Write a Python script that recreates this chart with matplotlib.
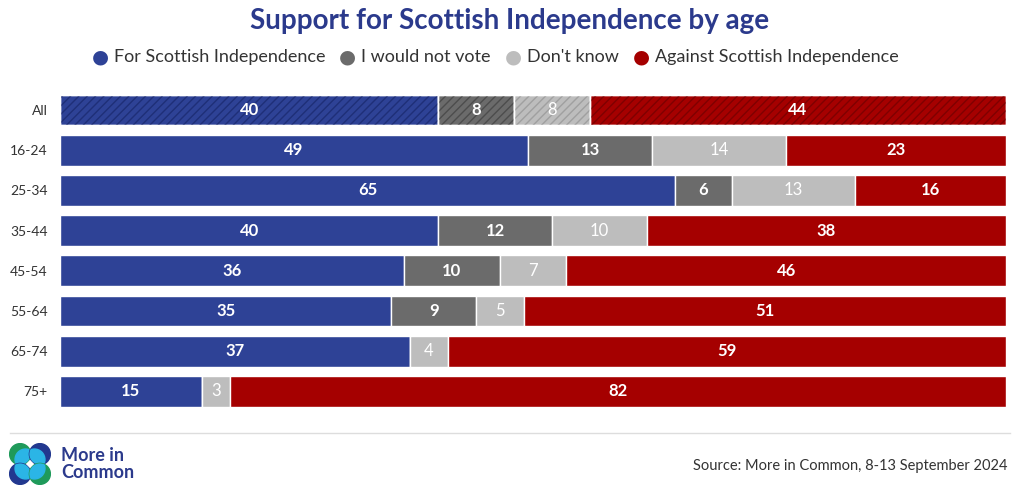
import matplotlib
matplotlib.use('Agg')
from matplotlib import pyplot as plt
from matplotlib.patches import Circle
import numpy as np

plt.rcParams['font.family'] = ['Lato', 'DejaVu Sans']
plt.rcParams['hatch.linewidth'] = 1.0

groups = ['All', '16-24', '25-34', '35-44', '45-54', '55-64', '65-74', '75+']
series = ['For Scottish Independence', 'I would not vote', "Don't know", 'Against Scottish Independence']
for_indy = [40, 49, 65, 40, 36, 35, 37, 15]
not_vote = [8, 13, 6, 12, 10, 9, 0, 0]
dont_know = [8, 14, 13, 10, 7, 5, 4, 3]
against = [44, 23, 16, 38, 46, 51, 59, 82]

colors = ['#2e4296', '#6b6b6b', '#bdbdbd', '#a50000']
hatch_colors = ['#1f2f78', '#4d4d4d', '#a0a0a0', '#7f0000']
label_weight = ['bold', 'bold', 'normal', 'bold']

values = np.array([for_indy, not_vote, dont_know, against], dtype=float)
shares = values / values.sum(axis=0) * 100

fig = plt.figure(figsize=(10.2, 4.98), dpi=100)
ax = fig.add_axes([60 / 1020, 0.1737, 946 / 1020, 0.6458])

y = np.arange(len(groups))
left = np.zeros(len(groups))
for i, name in enumerate(series):
    ax.barh(y, shares[i], left=left, height=0.77, color=colors[i],
            edgecolor='white', linewidth=1.0)
    # hatched overlay for the "All" row
    ax.barh(y[0], shares[i][0], left=left[0], height=0.77, color='none',
            edgecolor=hatch_colors[i], hatch='////', linewidth=0)
    ax.barh(y[0], shares[i][0], left=left[0], height=0.77, color='none',
            edgecolor='white', linewidth=1.0)
    for j in range(len(groups)):
        v = values[i][j]
        if v > 0:
            ax.text(left[j] + shares[i][j] / 2, y[j], f'{int(v)}', ha='center', va='center',
                    color='white', fontsize=12, fontweight=label_weight[i])
    left += shares[i]

ax.set_xlim(0, 100)
ax.set_ylim(len(groups) - 0.5, -0.5)
ax.set_yticks(y)
ax.set_yticklabels(groups, fontsize=10, color='#333333')
ax.tick_params(axis='y', length=0, pad=9)
ax.set_xticks([])
for s in ax.spines.values():
    s.set_visible(False)

fig.text(0.5, 1 - 21 / 498, 'Support for Scottish Independence by age', ha='center', va='center',
         fontsize=20, fontweight='bold', color='#2b3a8c')

# legend row, laid out from measured text widths and centred
renderer = fig.canvas.get_renderer()
leg_y = 1 - 57 / 498
items = []
for i, name in enumerate(series):
    t = fig.text(0, leg_y, name, color='#333333', fontsize=13, ha='left', va='center')
    w = t.get_window_extent(renderer).width
    items.append((t, w))
dot_w, dot_gap, item_gap = 13, 5, 18
total = sum(dot_w + dot_gap + w for _, w in items) + item_gap * (len(items) - 1)
x = 497 - total / 2
for i, (t, w) in enumerate(items):
    fig.text((x + dot_w) / 1020, leg_y, '\u25cf', color=colors[i], fontsize=14,
             ha='right', va='center', family='DejaVu Sans')
    t.set_x((x + dot_w + dot_gap) / 1020)
    x += dot_w + dot_gap + w + item_gap

# footer
fig.add_artist(plt.Line2D([10 / 1020, 1010 / 1020], [1 - 433 / 498, 1 - 433 / 498],
                          color='#dddddd', linewidth=1))
fig.text(1008 / 1020, 1 - 466 / 498, 'Source: More in Common, 8-13 September 2024',
         ha='right', va='center', fontsize=10.5, color='#333333')
fig.text(61 / 1020, 1 - 455 / 498, 'More in', ha='left', va='center', fontsize=13,
         fontweight='bold', color='#2b3a8c')
fig.text(61 / 1020, 1 - 472 / 498, 'Common', ha='left', va='center', fontsize=13,
         fontweight='bold', color='#2b3a8c')

# logo
lax = fig.add_axes([9 / 1020, 1 - 485 / 498, 42 / 1020, 42 / 498])
lax.set_xlim(-1, 1)
lax.set_ylim(-1, 1)
lax.set_aspect('equal')
lax.axis('off')
r = 0.5
centers = [(-0.47, 0.47, '#1f9a5a'), (0.47, 0.47, '#22388f'), (-0.47, -0.47, '#22388f'), (0.47, -0.47, '#1f9a5a')]
for cx, cy, c in centers:
    base = Circle((cx, cy), r, color=c)
    lax.add_patch(base)
    inner = Circle((cx * 0.45, cy * 0.45), r, color='#2bb5e6')
    lax.add_patch(inner)
    inner.set_clip_path(base)
lax.add_patch(Circle((0, 0), 0.1, color='white'))

fig.savefig('out.png', dpi=100, facecolor='white')
